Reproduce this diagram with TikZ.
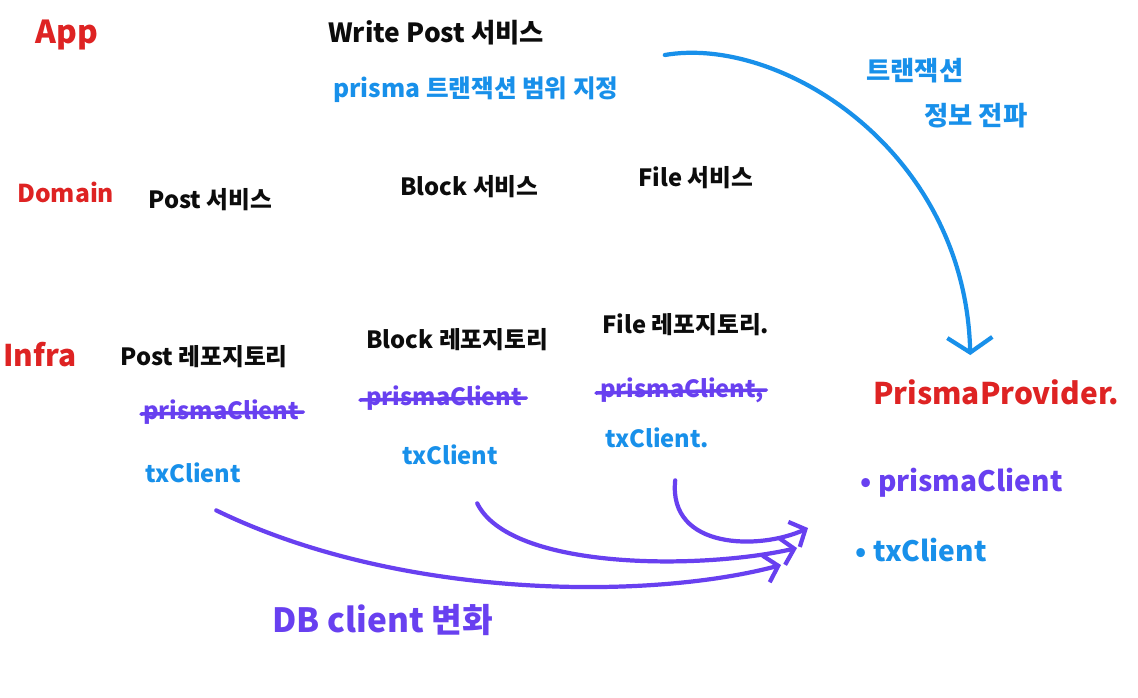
\documentclass[tikz,border=0pt]{standalone}
\usepackage{fontspec}
\setmainfont{Noto Sans CJK KR}
\usepackage{xcolor}
\definecolor{penred}{RGB}{222,35,35}
\definecolor{penblue}{RGB}{24,144,234}
\definecolor{penpurple}{RGB}{104,64,240}
\definecolor{penblack}{RGB}{12,12,12}
\usetikzlibrary{arrows.meta,calc}
\tikzset{
  layer/.style  ={anchor=west,inner sep=0pt,text=penred,font=\bfseries\fontsize{17}{21}\selectfont},
  svc/.style    ={anchor=west,inner sep=0pt,text=penblack,font=\bfseries\fontsize{13.5}{17}\selectfont},
  note/.style   ={anchor=west,inner sep=0pt,text=penblue,font=\bfseries\fontsize{14}{22}\selectfont,align=left},
  oldcl/.style  ={anchor=west,inner sep=0pt,text=penpurple,font=\bfseries\fontsize{13.5}{17}\selectfont},
  newcl/.style  ={anchor=west,inner sep=0pt,text=penblue,font=\bfseries\fontsize{13.5}{17}\selectfont},
  strike/.style ={draw=penpurple,line width=2pt,line cap=round},
  txflow/.style ={-{Straight Barb[length=3mm,width=9mm]},draw=penblue,line width=2.4pt,line cap=round},
  dbflow/.style ={-{Straight Barb[length=2.5mm,width=5.5mm]},draw=penpurple,line width=2.4pt,line cap=round},
}

\begin{document}
\begin{tikzpicture}[x=0.02cm,y=-0.02cm]
  \fill[white] (0,0) rectangle (1138,697);
  \useasboundingbox (0,0) rectangle (1138,697);
  % layers
  \node[layer,font=\bfseries\fontsize{18}{21}\selectfont] (app) at (35,35) {App};
  \node[layer,font=\bfseries\fontsize{14}{18}\selectfont] (dom) at (17,192) {Domain};
  \node[layer] (infra) at (3,355) {Infra};
  % app layer
  \node[svc,font=\bfseries\fontsize{15}{19}\selectfont] (wpost) at (328,33) {Write Post 서비스};
  \node[note] (scope) at (333,90) {prisma 트랜잭션 범위 지정};
  \node[note,font=\bfseries\fontsize{15}{26}\selectfont] (prop) at (866,93) {트랜잭션\\\hspace{2.2em}정보 전파};
  % domain layer
  \node[svc] (psvc) at (148,200) {Post 서비스};
  \node[svc] (bsvc) at (400,187) {Block 서비스};
  \node[svc] (fsvc) at (638,178) {File 서비스};
  % infra layer
  \node[svc] (prepo) at (120,357) {Post 레포지토리};
  \node[svc] (brepo) at (366,340) {Block 레포지토리};
  \node[svc] (frepo) at (602,325) {File 레포지토리.};
  \node[oldcl] (ppc) at (143,412) {prismaClient};
  \node[oldcl] (bpc) at (366,398) {prismaClient};
  \node[oldcl] (fpc) at (600,390) {prismaClient,};
  \draw[strike] ($(ppc.west)+(-2,2)$) -- ($(ppc.east)+(4,0)$);
  \draw[strike] ($(bpc.west)+(-6,2)$) -- ($(bpc.east)+(4,0)$);
  \draw[strike] ($(fpc.west)+(-4,3)$) -- ($(fpc.east)+(2,0)$);
  \node[newcl] (ptx) at (145,473) {txClient};
  \node[newcl] (btx) at (402,455) {txClient};
  \node[newcl] (ftx) at (605,438) {txClient.};
  % provider
  \node[layer] (prov) at (873,392) {PrismaProvider.};
  \node[oldcl,font=\bfseries\fontsize{16}{20}\selectfont] (pcl) at (860,483) {• prismaClient};
  \node[newcl,font=\bfseries\fontsize{16}{20}\selectfont] (tcl) at (855,550) {• txClient};
  \node[oldcl,font=\bfseries\fontsize{19}{24}\selectfont] (dbchg) at (272,620) {DB client 변화};
  % connectors
  \draw[txflow] ($(scope.east)+(46,-35)$) .. controls (780,35) and (965,150) .. ($(prov.north)+(-26,-24)$);
  \draw[dbflow] ($(ptx.south)+(23,27)$) .. controls (400,600) and (650,600) .. ($(tcl.west)+(-74,15)$);
  \draw[dbflow] ($(btx.south)+(27,38)$) .. controls (510,570) and (700,570) .. ($(tcl.west)+(-58,-2)$);
  \draw[dbflow] ($(ftx.south)+(18,32)$) .. controls (668,550) and (760,550) .. ($(tcl.west)+(-47,-22)$);
\end{tikzpicture}
\end{document}
